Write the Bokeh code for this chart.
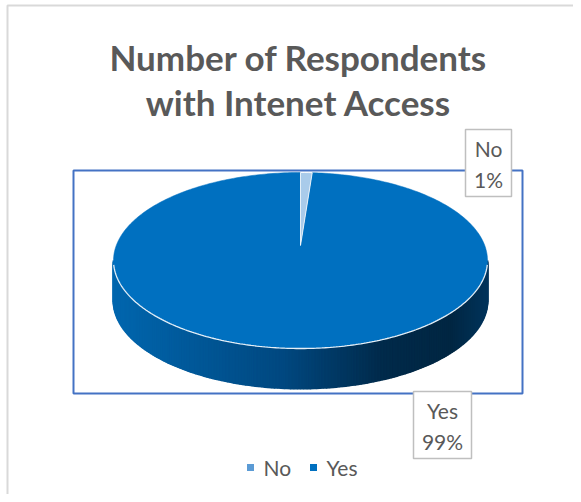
import numpy as np
from bokeh.plotting import figure
from bokeh.models import Range1d
from bokeh.core.properties import value
from bokeh.embed import file_html
from bokeh.resources import INLINE

# ---- data ----
categories = ["No", "Yes"]
counts = [1, 99]
colors = ["#5B9BD5", "#0070C0"]
title_lines = ["Number of Respondents", "with Intenet Access"]

FONT = "Lato"
GRAY = "#595959"

W, H = 573, 494
p = figure(width=W, height=H, output_backend="svg", toolbar_location=None,
           x_range=Range1d(0, W), y_range=Range1d(H, 0),
           min_border=0, outline_line_color=None)
p.axis.visible = False
p.grid.visible = False
p.background_fill_color = "white"
p.border_fill_color = "white"

# outer chart border (left/top visible)
p.line(x=[7, 7, 600], y=[600, 5, 5], line_color="#D9D9D9", line_width=2)

# plot area box
p.quad(left=[73], right=[522], top=[170], bottom=[393], fill_color=None,
       line_color="#4472C4", line_width=2)

# ---- pie geometry ----
cx, cy, a, b, depth = 300.0, 260.0, 187.0, 88.0, 40.0
apex = (300.0, 245.0)
total = float(sum(counts))
fracs = np.array(counts) / total
bounds = np.concatenate([[0.0], np.cumsum(fracs)]) * 2 * np.pi


def rim(th):
    return cx + a * np.sin(th), cy - b * np.cos(th)

# side strips with gradient
stops_t = [0.0, 0.45, 0.72, 0.9, 1.0]
stops_c = [(0, 102, 174), (0, 72, 128), (0, 42, 74), (0, 38, 66), (0, 52, 92)]
ths = np.linspace(np.pi / 2, 3 * np.pi / 2, 181)
xs_list, ys_list, cols = [], [], []
for i in range(len(ths) - 1):
    t0, t1 = ths[i], ths[i + 1]
    x0, y0 = rim(t0)
    x1, y1 = rim(t1)
    xs_list.append([x0, x1, x1, x0])
    ys_list.append([y0, y1, y1 + depth, y0 + depth])
    xm = (x0 + x1) / 2
    t = (xm - (cx - a)) / (2 * a)
    r = [np.interp(t, stops_t, [c[k] for c in stops_c]) for k in range(3)]
    cols.append("#%02x%02x%02x" % tuple(int(round(v)) for v in r))
p.patches(xs=xs_list, ys=ys_list, fill_color=cols, line_color=cols, line_width=2)

# top face wedges (largest first so the thin one sits on top)
order = np.argsort(-np.array(counts))
for i in order:
    th = np.linspace(bounds[i], bounds[i + 1], max(4, int(360 * fracs[i])))
    xr, yr = rim(th)
    xs = [apex[0]] + list(xr)
    ys = [apex[1]] + list(yr)
    if fracs[i] < 0.5:
        p.patch(x=xs, y=ys, fill_color="#A9CBEA", line_color="white", line_width=0.8)
    else:
        p.patch(x=xs, y=ys, fill_color=colors[i], line_color=colors[i], line_width=0.5)

# white front rim
xr, yr = rim(np.linspace(np.pi / 2 + 0.05, 3 * np.pi / 2 - 0.05, 200))
p.line(x=xr, y=yr, line_color="white", line_width=1.3, line_alpha=0.9)

# ---- data labels ----
pcts = ["%d%%" % round(f * 100) for f in fracs]
label_boxes = {"No": (488, 162.5, 46, 67), "Yes": (442, 424.5, 58, 67)}
for cat, pct in zip(categories, pcts):
    bx, by, bw, bh = label_boxes[cat]
    p.rect(x=[bx], y=[by], width=[bw], height=[bh], fill_color="white",
           line_color="#BFBFBF", line_width=1.5)
    p.text(x=[bx, bx], y=[by - 15, by + 16], text=[cat, pct],
           text_font=value(FONT), text_font_size="21px", text_color=GRAY,
           text_align="center", text_baseline="middle")

# ---- title ----
p.text(x=[298, 298], y=[56, 101], text=title_lines, text_font=value(FONT),
       text_font_size="35px", text_font_style="bold", text_color=GRAY,
       text_align="center", text_baseline="middle")

# ---- legend ----
leg_x = [250, 313]
p.scatter(x=leg_x, y=[467, 467], marker="square", size=7, fill_color=colors,
          line_color=None)
p.text(x=[x + 13 for x in leg_x], y=[467, 467], text=categories,
       text_font=value(FONT), text_font_size="21px", text_color=GRAY,
       text_align="left", text_baseline="middle")

open("out.html", "w").write(file_html(p, INLINE))
